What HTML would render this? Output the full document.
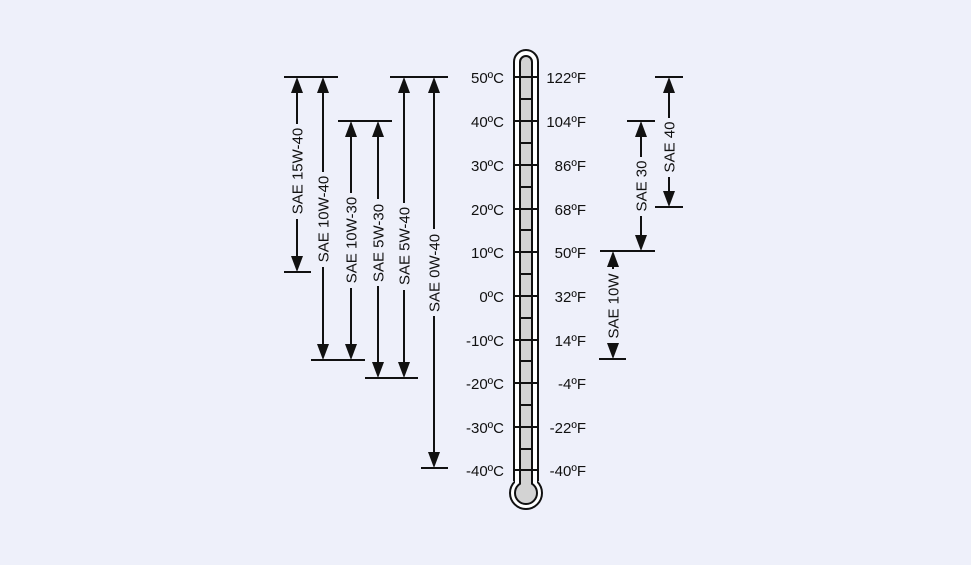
<!DOCTYPE html>
<html><head><meta charset="utf-8"><style>
html,body{margin:0;padding:0;background:#eef0fa;}
svg{display:block;}
text{font-family:"Liberation Sans",Arial,sans-serif;font-size:15px;fill:#111;}
</style></head><body>
<svg width="971" height="565" viewBox="0 0 971 565" xmlns="http://www.w3.org/2000/svg">
<rect width="971" height="565" fill="#eef0fa"/>
<g stroke="#111" stroke-width="2" fill="none">
<line x1="284" y1="77" x2="338" y2="77"/>
<line x1="284" y1="272" x2="311" y2="272"/>
<line x1="311" y1="360" x2="365" y2="360"/>
<line x1="338" y1="121" x2="392" y2="121"/>
<line x1="365" y1="378" x2="418" y2="378"/>
<line x1="390" y1="77" x2="448" y2="77"/>
<line x1="421" y1="468" x2="448" y2="468"/>
<line x1="627" y1="121" x2="655" y2="121"/>
<line x1="600" y1="251" x2="655" y2="251"/>
<line x1="655" y1="77" x2="683" y2="77"/>
<line x1="655" y1="207" x2="683" y2="207"/>
<line x1="599" y1="359" x2="626" y2="359"/>
<line x1="297" y1="85" x2="297" y2="264"/>
<line x1="323" y1="85" x2="323" y2="352"/>
<line x1="351" y1="129" x2="351" y2="352"/>
<line x1="378" y1="129" x2="378" y2="370"/>
<line x1="404" y1="85" x2="404" y2="370"/>
<line x1="434" y1="85" x2="434" y2="460"/>
<line x1="641" y1="129" x2="641" y2="243"/>
<line x1="669" y1="85" x2="669" y2="199"/>
<line x1="613" y1="259" x2="613" y2="351"/>
</g>
<g fill="#eef0fa">
<rect x="289" y="124" width="16" height="95"/>
<rect x="315" y="172" width="16" height="95"/>
<rect x="343" y="193" width="16" height="95"/>
<rect x="370" y="199" width="16" height="87"/>
<rect x="396" y="203" width="16" height="87"/>
<rect x="426" y="229" width="16" height="87"/>
<rect x="633" y="157" width="16" height="59"/>
<rect x="661" y="118" width="16" height="59"/>
<rect x="605" y="269" width="16" height="75"/>
</g>
<g fill="#111">
<polygon points="297,77 291,93 303,93"/><polygon points="297,272 291,256 303,256"/>
<polygon points="323,77 317,93 329,93"/><polygon points="323,360 317,344 329,344"/>
<polygon points="351,121 345,137 357,137"/><polygon points="351,360 345,344 357,344"/>
<polygon points="378,121 372,137 384,137"/><polygon points="378,378 372,362 384,362"/>
<polygon points="404,77 398,93 410,93"/><polygon points="404,378 398,362 410,362"/>
<polygon points="434,77 428,93 440,93"/><polygon points="434,468 428,452 440,452"/>
<polygon points="641,121 635,137 647,137"/><polygon points="641,251 635,235 647,235"/>
<polygon points="669,77 663,93 675,93"/><polygon points="669,207 663,191 675,191"/>
<polygon points="613,251 607,267 619,267"/><polygon points="613,359 607,343 619,343"/>
</g>
<g text-anchor="middle">
<text transform="translate(302.5,171) rotate(-90)">SAE 15W-40</text>
<text transform="translate(328.5,219) rotate(-90)">SAE 10W-40</text>
<text transform="translate(356.5,240) rotate(-90)">SAE 10W-30</text>
<text transform="translate(383.5,243) rotate(-90)">SAE 5W-30</text>
<text transform="translate(409.5,246) rotate(-90)">SAE 5W-40</text>
<text transform="translate(439.5,273) rotate(-90)">SAE 0W-40</text>
<text transform="translate(646.5,186) rotate(-90)">SAE 30</text>
<text transform="translate(674.5,147) rotate(-90)">SAE 40</text>
<text transform="translate(618.5,306) rotate(-90)">SAE 10W</text>
</g>
<g stroke="#111" stroke-width="2">
<path d="M514,62 A12,12 0 0 1 538,62 L538,480 L514,480 Z" fill="#fff"/>
<circle cx="526" cy="493" r="16" fill="#fff"/>
</g>
<rect x="515" y="470" width="22" height="16" fill="#fff"/>
<g stroke="#111" stroke-width="2">
<path d="M520,62 A6,6 0 0 1 532,62 L532,484 L520,484 Z" fill="#d3d3d3"/>
<circle cx="526" cy="493" r="11" fill="#d3d3d3"/>
</g>
<rect x="521" y="476" width="10" height="12" fill="#d3d3d3"/>
<g stroke="#111" stroke-width="2">
<line x1="513" y1="77" x2="539" y2="77"/><line x1="520" y1="99" x2="532" y2="99"/>
<line x1="513" y1="121" x2="539" y2="121"/><line x1="520" y1="143" x2="532" y2="143"/>
<line x1="513" y1="165" x2="539" y2="165"/><line x1="520" y1="187" x2="532" y2="187"/>
<line x1="513" y1="209" x2="539" y2="209"/><line x1="520" y1="230" x2="532" y2="230"/>
<line x1="513" y1="252" x2="539" y2="252"/><line x1="520" y1="274" x2="532" y2="274"/>
<line x1="513" y1="296" x2="539" y2="296"/><line x1="520" y1="318" x2="532" y2="318"/>
<line x1="513" y1="340" x2="539" y2="340"/><line x1="520" y1="361" x2="532" y2="361"/>
<line x1="513" y1="383" x2="539" y2="383"/><line x1="520" y1="405" x2="532" y2="405"/>
<line x1="513" y1="427" x2="539" y2="427"/><line x1="520" y1="449" x2="532" y2="449"/>
<line x1="513" y1="470" x2="539" y2="470"/>
</g>
<g text-anchor="end">
<text x="504" y="83">50ºC</text>
<text x="504" y="127">40ºC</text>
<text x="504" y="171">30ºC</text>
<text x="504" y="215">20ºC</text>
<text x="504" y="258">10ºC</text>
<text x="504" y="302">0ºC</text>
<text x="504" y="346">-10ºC</text>
<text x="504" y="389">-20ºC</text>
<text x="504" y="433">-30ºC</text>
<text x="504" y="476">-40ºC</text>
<text x="586" y="83">122ºF</text>
<text x="586" y="127">104ºF</text>
<text x="586" y="171">86ºF</text>
<text x="586" y="215">68ºF</text>
<text x="586" y="258">50ºF</text>
<text x="586" y="302">32ºF</text>
<text x="586" y="346">14ºF</text>
<text x="586" y="389">-4ºF</text>
<text x="586" y="433">-22ºF</text>
<text x="586" y="476">-40ºF</text>
</g>
</svg>
</body></html>
